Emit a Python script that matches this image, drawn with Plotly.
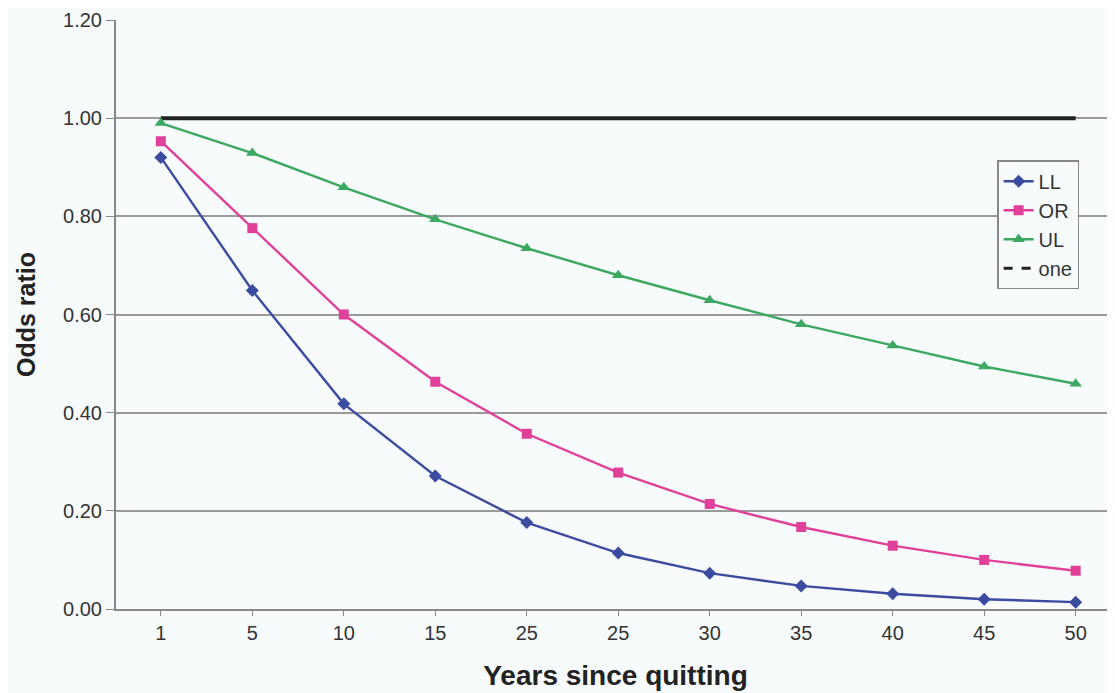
import plotly.graph_objects as go

years = ["1", "5", "10", "15", "25", "25", "30", "35", "40", "45", "50"]
ll = [0.92, 0.649, 0.418, 0.271, 0.176, 0.114, 0.073, 0.047, 0.031, 0.020, 0.014]
or_ = [0.953, 0.776, 0.600, 0.463, 0.357, 0.278, 0.214, 0.167, 0.129, 0.100, 0.078]
ul = [0.990, 0.929, 0.859, 0.794, 0.735, 0.680, 0.629, 0.580, 0.537, 0.494, 0.459]
one = [1.0] * len(years)
y_ticks = [0.0, 0.2, 0.4, 0.6, 0.8, 1.0, 1.2]

pos = list(range(len(years)))
bg = "#F7FBFC"
font = "Liberation Sans, Arial, sans-serif"

fig = go.Figure()
fig.add_trace(go.Scatter(x=pos, y=one, mode="lines", line=dict(color="#222222", width=4),
                         showlegend=False, hoverinfo="skip"))
fig.add_trace(go.Scatter(x=pos, y=ll, name="LL", mode="lines+markers",
                         line=dict(color="#3B4BA0", width=2.4),
                         marker=dict(symbol="diamond", size=10, color="#3B4BA0")))
fig.add_trace(go.Scatter(x=pos, y=or_, name="OR", mode="lines+markers",
                         line=dict(color="#E0409A", width=2.4),
                         marker=dict(symbol="square", size=10, color="#E0409A")))
fig.add_trace(go.Scatter(x=pos, y=ul, name="UL", mode="lines+markers",
                         line=dict(color="#3DA860", width=2.4),
                         marker=dict(symbol="triangle-up", size=11, color="#3DA860")))
fig.add_trace(go.Scatter(x=[None], y=[None], name="one", mode="lines",
                         line=dict(color="#222222", width=3, dash="dash")))

fig.update_layout(
    width=1107, height=685,
    margin=dict(l=108, r=0, t=12, b=84),
    paper_bgcolor=bg, plot_bgcolor=bg,
    font=dict(family=font, size=20, color="#333333"),
    legend=dict(x=0.882, y=0.762, xanchor="left", yanchor="top",
                bgcolor=bg, bordercolor="#888888", borderwidth=1.5,
                font=dict(size=20, color="#333333"), tracegroupgap=2),
    showlegend=True,
)
fig.update_xaxes(
    range=[-0.49, 10.43], tickmode="array", tickvals=pos, ticktext=years,
    showgrid=False, showline=True, linecolor="#888888", linewidth=2,
    ticks="outside", ticklen=5, tickcolor="#888888",
    title=dict(text="<b>Years since quitting</b>", font=dict(size=28, color="#222222"), standoff=22),
    zeroline=False,
)
fig.update_yaxes(
    range=[0, 1.2], tickmode="array", tickvals=y_ticks, tickformat=".2f",
    showgrid=True, gridcolor="#9a9a9a", gridwidth=1.8,
    showline=True, linecolor="#888888", linewidth=2,
    ticks="outside", ticklen=8, tickcolor="#888888",
    title=dict(text="<b>Odds ratio</b>", font=dict(size=25, color="#222222"), standoff=20),
    zeroline=False,
)
fig.write_html("out.html")
